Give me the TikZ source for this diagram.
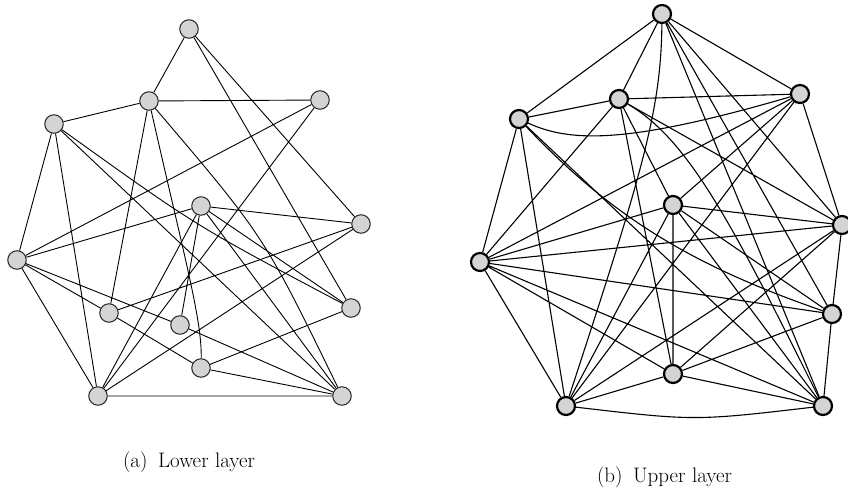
\documentclass[tikz,border=0pt]{standalone}
\usetikzlibrary{backgrounds}
\begin{document}
\begin{tikzpicture}[x=1pt,y=-1pt,
  lnode/.style={circle,draw=black!85,line width=1pt,fill=black!17,minimum size=18.5pt,inner sep=0pt},
  unode/.style={circle,draw=black,line width=2.2pt,fill=black!17,minimum size=18pt,inner sep=0pt},
  ledge/.style={line width=0.9pt},
  uedge/.style={line width=1.1pt},
  captext/.style={font=\fontsize{21}{24}\selectfont,anchor=base}]
\useasboundingbox (0,0) rectangle (848,498);
% lower layer nodes
\node[lnode] (A) at (189,29) {};
\node[lnode] (B) at (149,101) {};
\node[lnode] (C) at (320,100) {};
\node[lnode] (D) at (54,124) {};
\node[lnode] (E) at (201,206) {};
\node[lnode] (F) at (361,224) {};
\node[lnode] (G) at (17,260) {};
\node[lnode] (H) at (109,313) {};
\node[lnode] (I) at (180,325) {};
\node[lnode] (J) at (351,308) {};
\node[lnode] (K) at (201,368) {};
\node[lnode] (L) at (98,396) {};
\node[lnode] (M) at (342,396) {};
% upper layer nodes
\node[unode] (P) at (662,14) {};
\node[unode] (Q) at (619,99) {};
\node[unode] (R) at (800,94) {};
\node[unode] (S) at (519,119) {};
\node[unode] (T) at (673,205) {};
\node[unode] (U) at (842,225) {};
\node[unode] (V) at (480,262) {};
\node[unode] (W) at (832,314) {};
\node[unode] (X) at (673,374) {};
\node[unode] (Y) at (566,406) {};
\node[unode] (Z) at (823,406) {};
\begin{scope}[on background layer]
\draw[ledge] (A)--(B) (A)--(J) (A)--(F) (B)--(C) (B)--(D) (B)--(H)
  (C)--(G) (C)--(L) (D)--(G) (D)--(L) (D)--(M) (E)--(G) (E)--(F) (E)--(I)
  (E)--(L) (E)--(M) (E)--(J) (F)--(H) (F)--(L) (G)--(H) (G)--(I) (G)--(L)
  (H)--(K) (I)--(M) (K)--(J) (K)--(M) (L)--(M);
\draw[ledge] (B) .. controls (185,260) and (202,320) .. (K);
\draw[ledge] (B) .. controls (264,236) .. (M);
\draw[ledge] (D) .. controls (196,226) .. (J);
\draw[uedge] (P)--(Q) (P)--(S) (P)--(R) (P)--(Z) (P)--(W) (P)--(U)
  (Q)--(R) (Q)--(S) (Q)--(X) (Q)--(U) (Q)--(V) (Q)--(T)
  (R)--(V) (R)--(T) (R)--(Y) (R)--(U)
  (S)--(V) (S)--(Y) (S)--(Z)
  (T)--(V) (T)--(U) (T)--(W) (T)--(Z) (T)--(X) (T)--(Y)
  (U)--(V) (U)--(W) (U)--(X) (U)--(Y)
  (V)--(W) (V)--(Z) (V)--(X) (V)--(Y)
  (W)--(Z) (W)--(X)
  (X)--(Y) (X)--(Z);
\draw[uedge] (P) .. controls (661,110) and (643,171) .. (Y);
\draw[uedge] (Q) .. controls (690,140) and (735,230) .. (Z);
\draw[uedge] (S) .. controls (570,142) and (625,145) .. (R);
\draw[uedge] (S) .. controls (610,215) and (690,265) .. (W);
\draw[uedge] (Y) .. controls (694.5,421) .. (Z);
\end{scope}
\node[captext] (capa) at (189,467) {(a)\hspace{0.5em}Lower layer};
\node[captext] (capb) at (664.5,482) {(b)\hspace{0.5em}Upper layer};
\end{tikzpicture}
\end{document}
